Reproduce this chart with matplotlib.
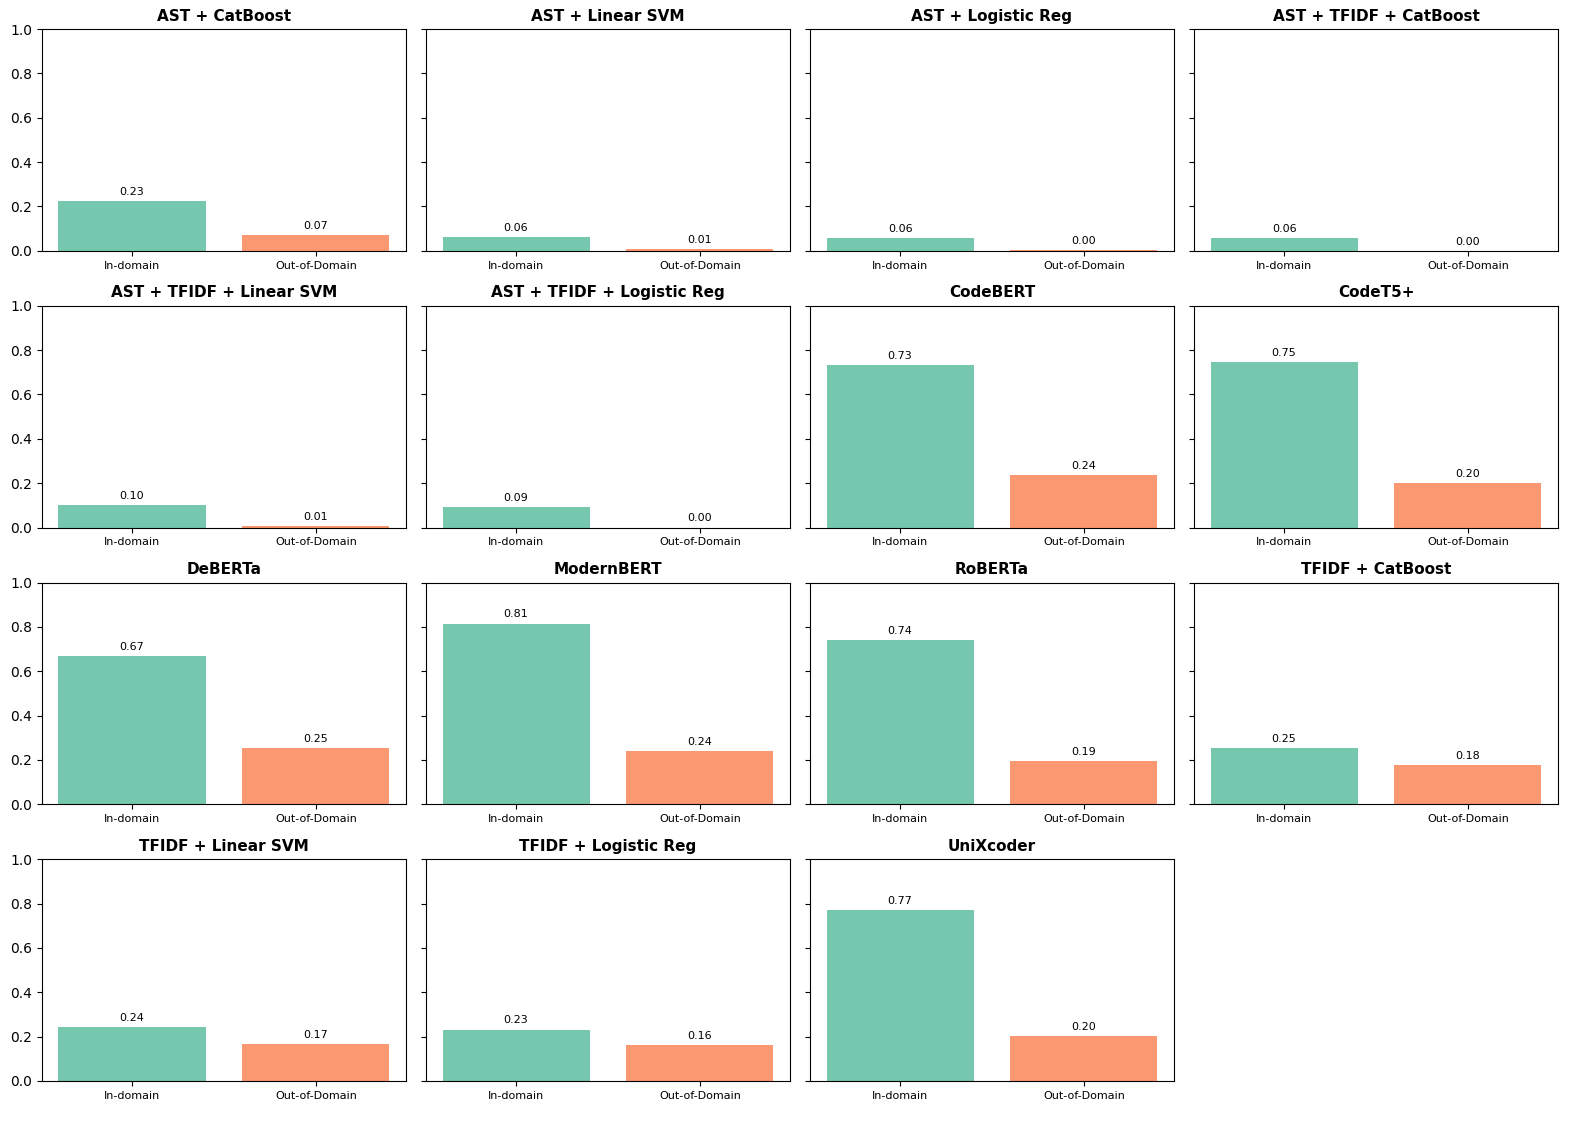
import matplotlib.pyplot as plt
import numpy as np

models = ["AST + CatBoost", "AST + Linear SVM", "AST + Logistic Reg", "AST + TFIDF + CatBoost",
          "AST + TFIDF + Linear SVM", "AST + TFIDF + Logistic Reg", "CodeBERT", "CodeT5+",
          "DeBERTa", "ModernBERT", "RoBERTa", "TFIDF + CatBoost",
          "TFIDF + Linear SVM", "TFIDF + Logistic Reg", "UniXcoder"]
in_domain = [0.225, 0.062, 0.058, 0.058, 0.100, 0.093, 0.733, 0.747,
             0.670, 0.815, 0.740, 0.252, 0.242, 0.232, 0.770]
out_domain = [0.072, 0.008, 0.003, 0.000, 0.008, 0.000, 0.237, 0.202,
              0.253, 0.240, 0.194, 0.178, 0.167, 0.162, 0.204]
splits = ["In-domain", "Out-of-Domain"]
colors = ["#66c2a5", "#fc8d62"]

fig, axes = plt.subplots(4, 4, figsize=(15.89, 11.26), dpi=100, sharey=True)
axes = axes.flatten()

for i, name in enumerate(models):
    ax = axes[i]
    vals = [in_domain[i], out_domain[i]]
    bars = ax.bar(splits, vals, color=colors, alpha=0.9)
    ax.bar_label(bars, labels=[f"{v:.2f}" for v in vals], fontsize=8, padding=3)
    ax.set_title(name, fontsize=11, fontweight="bold")
    ax.set_ylim(0, 1)
    ax.tick_params(axis="x", labelsize=8)

for ax in axes[len(models):]:
    fig.delaxes(ax)

plt.subplots_adjust(left=0.0264, right=0.9805, top=0.9742, bottom=0.040,
                    wspace=0.055, hspace=0.248)
plt.savefig("out.png")
